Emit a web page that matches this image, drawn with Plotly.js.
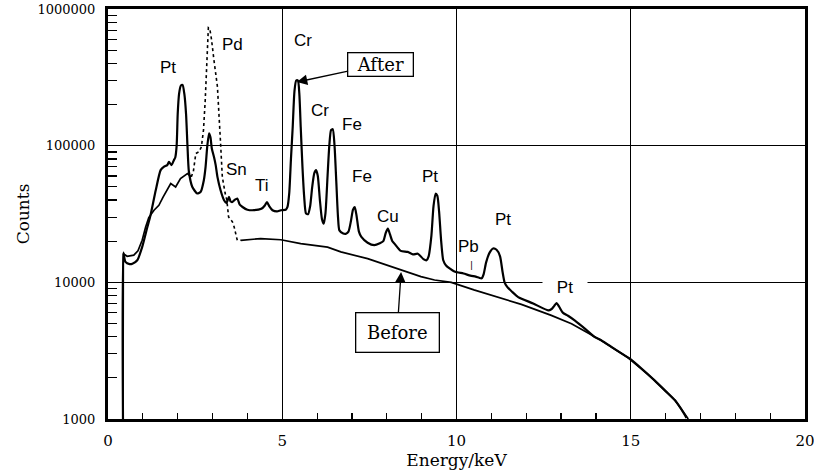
<!DOCTYPE html>
<html>
<head>
<meta charset="utf-8">
<script src="https://cdn.plot.ly/plotly-3.0.1.min.js"></script>
<style>html,body{margin:0;padding:0;background:#fff;}#chart{width:814px;height:473px;}</style>
</head>
<body>
<div id="chart"></div>
<script>
// Spectrum after cleaning (solid line): energy in keV, counts
const afterX = [0.43,0.44,0.50,0.62,0.70,0.84,0.98,1.13,1.22,1.37,1.51,1.60,1.70,1.75,1.82,1.89,1.93,1.97,2.00,2.04,2.09,2.14,2.19,2.24,2.28,2.32,2.42,2.56,2.66,2.75,2.80,2.85,2.90,2.94,2.98,3.04,3.09,3.14,3.23,3.33,3.40,3.47,3.52,3.57,3.63,3.71,3.78,3.86,4.00,4.19,4.40,4.50,4.56,4.63,4.72,4.85,4.96,5.10,5.15,5.20,5.25,5.30,5.35,5.40,5.45,5.49,5.53,5.58,5.63,5.68,5.74,5.80,5.86,5.92,5.97,6.02,6.08,6.14,6.19,6.24,6.30,6.35,6.40,6.45,6.50,6.55,6.60,6.64,6.75,6.83,6.90,6.97,7.03,7.08,7.13,7.20,7.27,7.45,7.64,7.80,7.90,7.97,8.03,8.09,8.16,8.22,8.40,8.60,8.75,8.89,9.05,9.14,9.20,9.28,9.34,9.40,9.45,9.50,9.56,9.62,9.70,9.94,10.20,10.40,10.55,10.65,10.72,10.78,10.85,10.95,11.05,11.15,11.25,11.32,11.38,11.45,11.60,11.77,12.20,12.63,12.72,12.80,12.87,12.95,13.05,13.20,13.39,13.70,13.97,14.16,14.50,14.97,15.30,15.69,16.00,16.27,16.45,16.60];
const afterY = [1000,16500,14100,13600,13700,14500,18100,25400,31000,47200,66200,70000,72000,76000,72000,78300,82000,100000,170000,240000,275000,278000,240000,170000,100000,65000,49900,44700,46000,55900,70000,100000,123000,115000,95000,82800,72000,59100,47200,39900,38000,42200,39000,38700,40000,41000,37000,35600,34000,33700,34500,36500,38700,36000,33700,33000,33700,34000,35600,44700,80000,137000,250000,300000,300000,240000,137000,70000,42000,32000,31500,36000,50000,63000,66200,60000,40000,29000,26900,32000,60000,100000,130000,132000,100000,55000,30000,24000,22800,22700,23500,28000,34000,35500,31000,23500,21500,19500,18700,19300,20000,23000,24700,22500,20000,19200,17000,16700,16000,16200,14800,14500,15500,22000,36000,44500,43000,33000,20000,14500,13300,12000,11600,11200,11000,10800,10700,11500,14000,16500,17700,17300,15500,12000,10000,9300,8500,7800,7000,6240,6350,6700,7050,6600,6000,5700,5270,4550,3970,3760,3300,2760,2350,1910,1600,1370,1180,1020];

// Spectrum before cleaning: energy in keV, counts (Pd region drawn dotted)
const beforeX = [0.43,0.44,0.55,0.74,0.86,0.98,1.08,1.17,1.32,1.46,1.58,1.70,1.80,1.94,2.08,2.28,2.39,2.45,2.52,2.61,2.68,2.74,2.79,2.84,2.88,2.92,2.97,3.04,3.14,3.23,3.28,3.36,3.41,3.46,3.57,3.62,3.71,3.81,4.38,4.96,5.53,6.30,6.68,7.45,8.41,8.98,9.37,9.85,10.50,11.29,11.86,12.72,13.30,14.07,14.97,15.69,16.27,16.55,16.65];
const beforeY = [1000,16200,15500,15800,17000,20300,25400,29800,33700,36600,42000,47200,52800,49900,57500,62500,59100,65000,87700,90100,98000,130000,215000,500000,730000,720000,600000,423000,270000,104000,59100,45000,40000,30100,27700,25400,20300,20300,20900,20500,19200,18100,16700,14900,12300,11000,10400,10000,8800,7600,6900,5730,4980,3870,2760,1910,1370,1090,1000];
const dottedFrom = 2.39, dottedTo = 3.81;

// Peak labels
const labelText = ["Pt","Pd","Cr","Cr","Fe","Sn","Ti","Fe","Cu","Pt","Pb","Pt","Pt"];
const labelX    = [1.72,3.56,5.60,6.08,7.00,3.70,4.42,7.29,8.03,9.24,10.33,11.33,13.11];
const labelY    = [376000,546000,593000,182000,142000,66400,51500,59000,30100,59000,18200,28600,9250];

// Axis ticks
const xTicks = [0,5,10,15,20];
const xMinor = [1,2,3,4,6,7,8,9,11,12,13,14,16,17,18,19];
const yTicks = [1000,10000,100000,1000000];
const yTickText = ["1000","10000","100000","1000000"];
const yMinor = [2000,3000,4000,5000,6000,7000,8000,9000,20000,30000,40000,50000,60000,70000,80000,90000,200000,300000,400000,500000,600000,700000,800000,900000];

const inDot = x => x >= dottedFrom && x <= dottedTo;

const traces = [
  {x: afterX, y: afterY, mode: 'lines', line: {color: '#000', width: 2.2, shape: 'spline', smoothing: 0.6}, hoverinfo: 'skip'},
  {x: beforeX, y: beforeY.map((v,i) => (beforeX[i] > dottedFrom && beforeX[i] < dottedTo) ? null : v),
   mode: 'lines', line: {color: '#000', width: 1.7}, connectgaps: false, hoverinfo: 'skip'},
  {x: beforeX.filter(inDot), y: beforeY.filter((v,i) => inDot(beforeX[i])),
   mode: 'lines', line: {color: '#000', width: 1.6, dash: 'dot'}, hoverinfo: 'skip'}
];

const annotations = labelText.map((t,i) => {
  const a = {x: labelX[i], y: Math.log10(labelY[i]), xref: 'x', yref: 'y', text: t, showarrow: false,
    font: {family: 'Liberation Sans, Arial, sans-serif', size: 17, color: '#000'}};
  if (i === labelText.length - 1) { a.bgcolor = '#fff'; a.width = 42; a.height = 14; }
  return a;
});
// small marker under Pb
annotations.push({x: 10.44, y: Math.log10(13400), xref: 'x', yref: 'y', text: '|', showarrow: false,
  font: {family: 'DejaVu Sans, sans-serif', size: 9, color: '#000'}});
annotations.push({x: 5.42, y: Math.log10(292000), xref: 'x', yref: 'y', text: 'After',
  showarrow: true, ax: 84, ay: -18, arrowhead: 2, arrowsize: 1.6, arrowwidth: 1.3, arrowcolor: '#000',
  font: {family: 'DejaVu Serif, serif', size: 18, color: '#000'},
  bgcolor: '#fff', bordercolor: '#000', borderwidth: 1.3, borderpad: 2, width: 60, height: 18});
annotations.push({x: 8.41, y: Math.log10(11900), xref: 'x', yref: 'y', text: 'Before',
  showarrow: true, ax: -4, ay: 60, arrowhead: 2, arrowsize: 1.6, arrowwidth: 1.3, arrowcolor: '#000',
  font: {family: 'DejaVu Serif, serif', size: 18, color: '#000'},
  bgcolor: '#fff', bordercolor: '#000', borderwidth: 1.3, borderpad: 4, width: 74, height: 30});

const layout = {
  width: 814, height: 473,
  margin: {l: 108, r: 9, t: 9, b: 54, pad: 0},
  paper_bgcolor: '#fff', plot_bgcolor: '#fff',
  showlegend: false,
  xaxis: {
    range: [0, 20], tickmode: 'array', tickvals: xTicks, ticks: '',
    showgrid: true, gridcolor: '#000', gridwidth: 1.3, zeroline: false,
    showline: true, linecolor: '#000', linewidth: 3, mirror: true,
    tickfont: {family: 'DejaVu Serif, serif', size: 15, color: '#000'}, ticklabelstandoff: 6,
    ticklabeloverflow: 'allow',
    minor: {tickmode: 'array', tickvals: xMinor, ticks: 'inside', ticklen: 6, tickwidth: 1.2, tickcolor: '#000', showgrid: false},
    title: {text: 'Energy/keV', font: {family: 'DejaVu Serif, serif', size: 17, color: '#000'}, standoff: 2}
  },
  yaxis: {
    type: 'log', range: [3, 6], tickmode: 'array', tickvals: yTicks, ticktext: yTickText, ticks: '',
    showgrid: true, gridcolor: '#000', gridwidth: 1.3, zeroline: false,
    showline: true, linecolor: '#000', linewidth: 3, mirror: true,
    tickfont: {family: 'DejaVu Serif, serif', size: 13, color: '#000'}, ticklabelstandoff: 7,
    ticklabeloverflow: 'allow',
    minor: {tickmode: 'array', tickvals: yMinor, ticks: 'inside', ticklen: 9, tickwidth: 1.2, tickcolor: '#000', showgrid: false},
    title: {text: 'Counts', font: {family: 'DejaVu Serif, serif', size: 17, color: '#000'}, standoff: 4}
  },
  annotations: annotations
};

Plotly.newPlot('chart', traces, layout, {staticPlot: true, displayModeBar: false});
</script>
</body>
</html>
